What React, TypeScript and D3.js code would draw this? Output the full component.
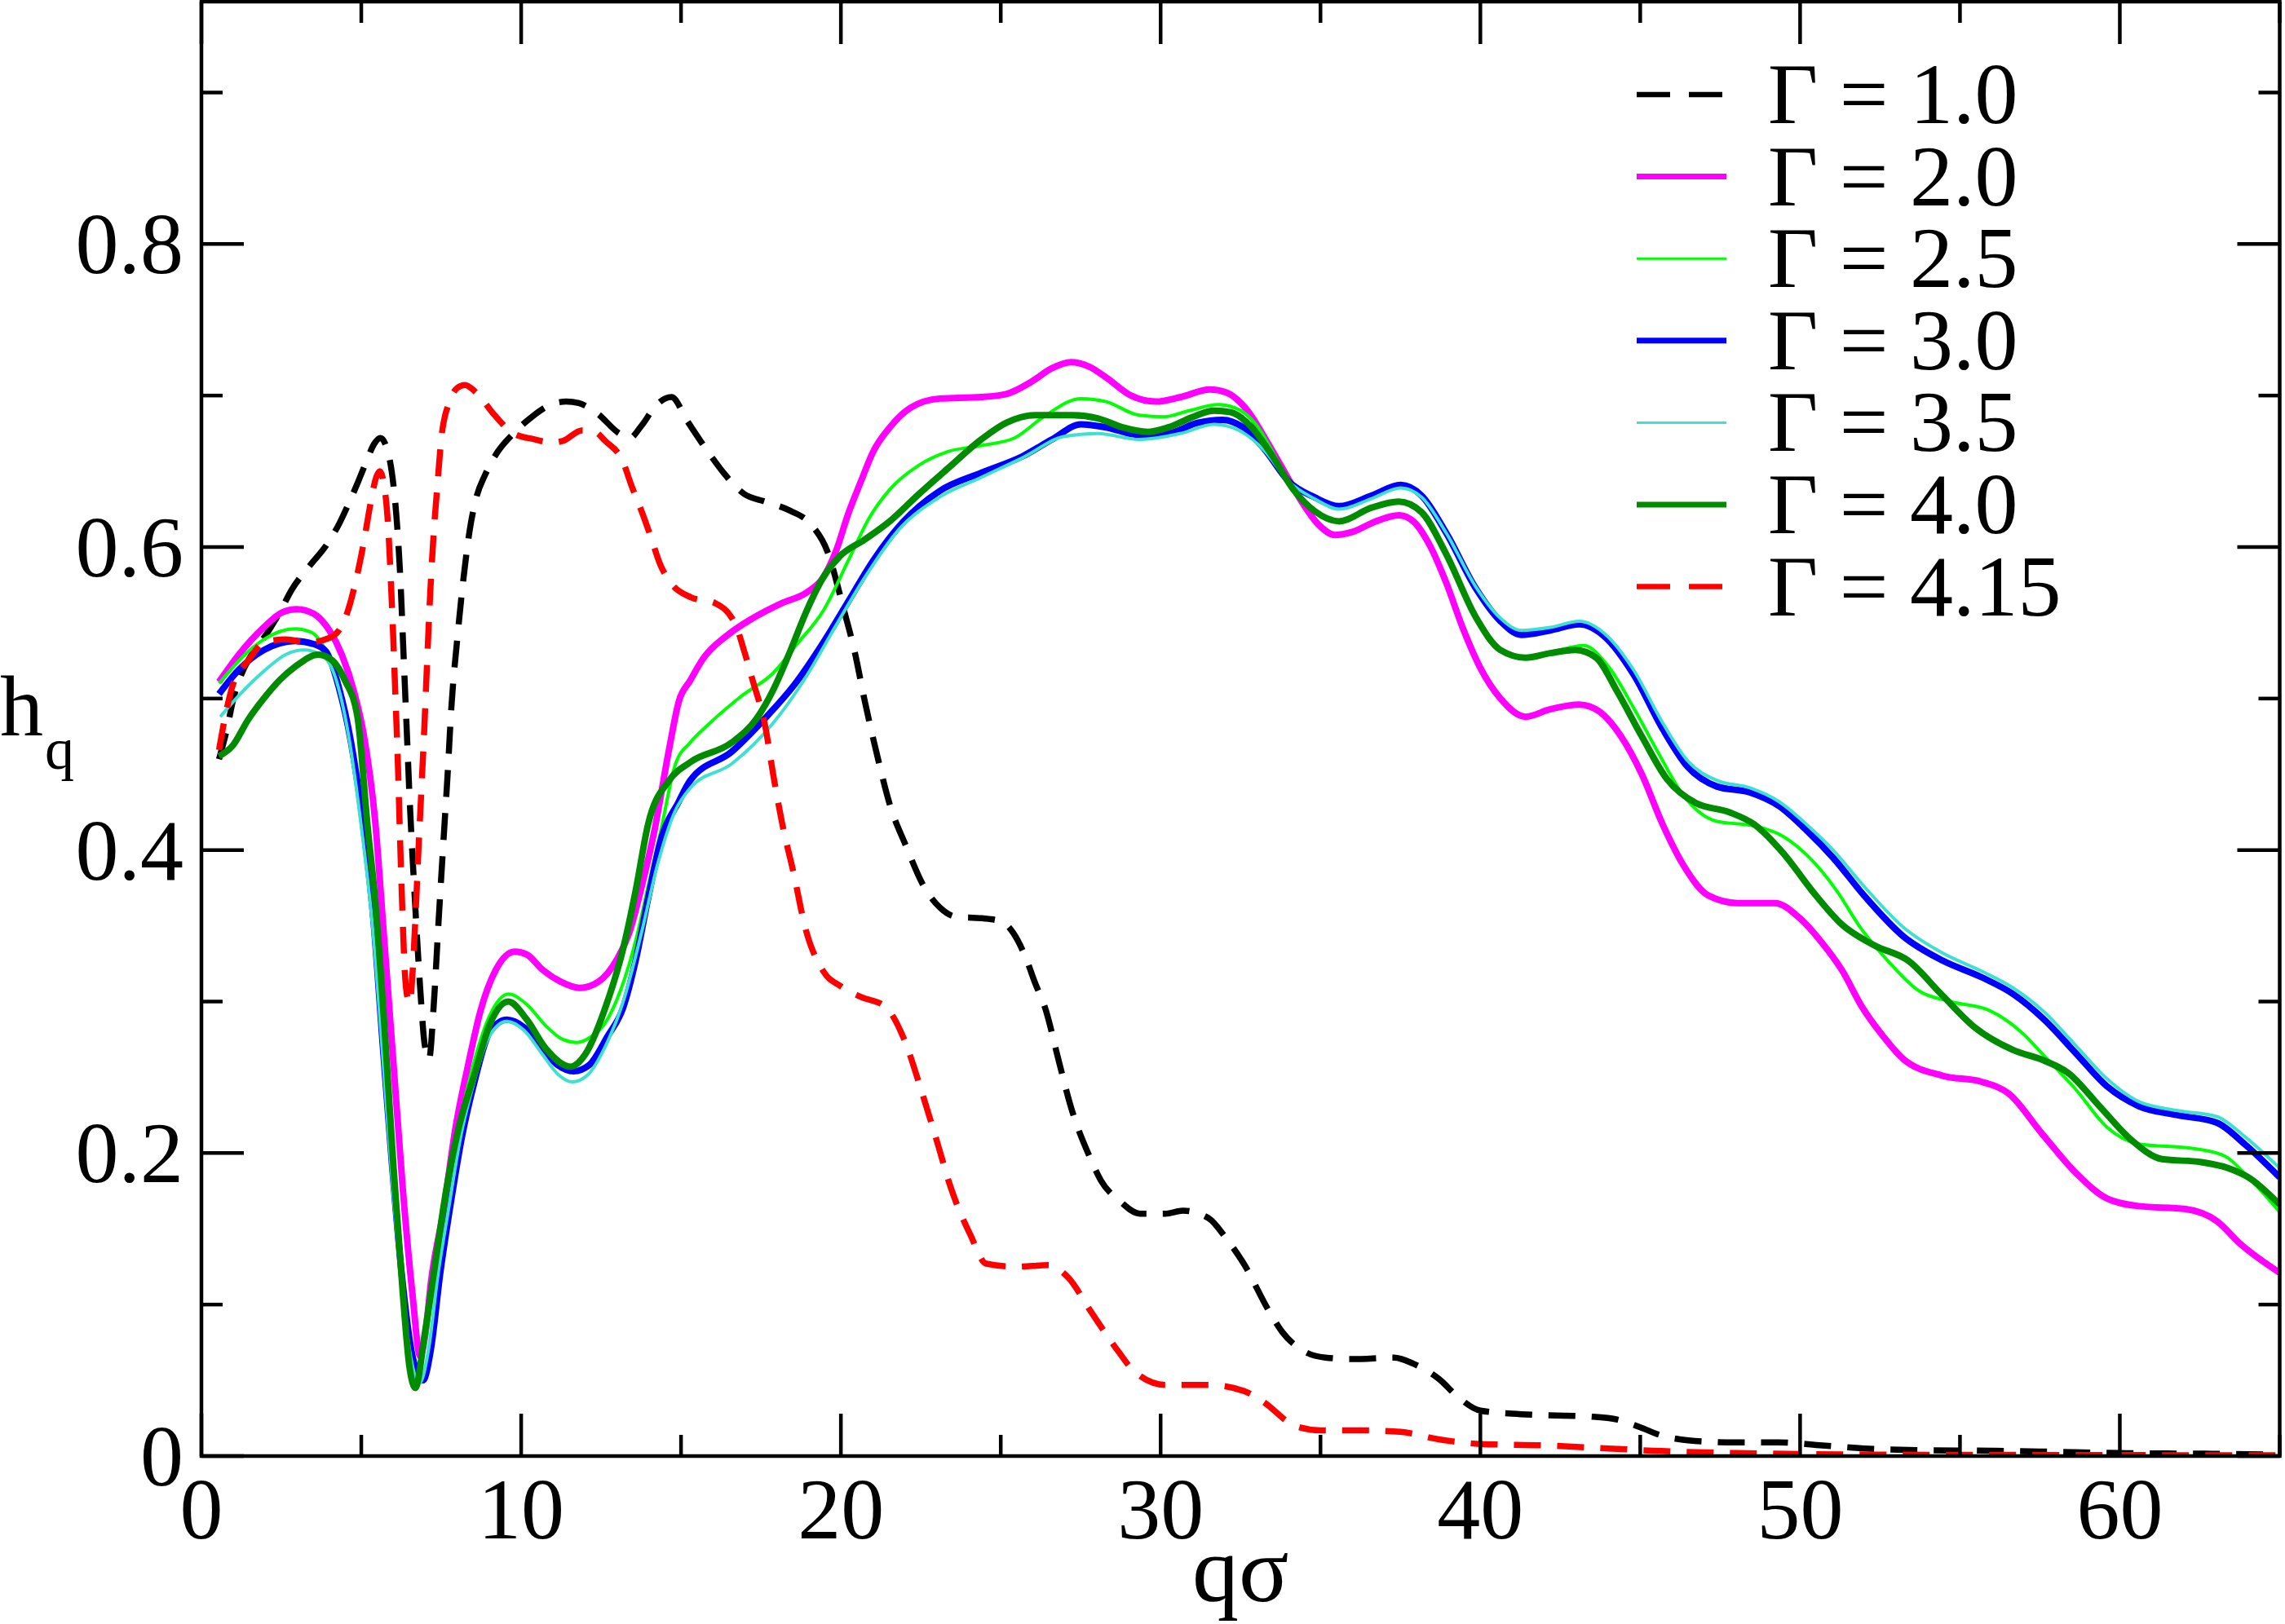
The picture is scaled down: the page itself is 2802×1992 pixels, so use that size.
import * as d3 from 'd3';

type Pt = [number, number];

// h_q against q*sigma
const gamma10: Pt[] = [
  [0.55, 0.46], [0.8, 0.48], [1.0, 0.5], [1.27, 0.517], [1.6, 0.53], [2.05, 0.543], [2.45, 0.557],
  [2.83, 0.572], [3.4, 0.588], [3.9, 0.601], [4.3, 0.615], [4.59, 0.628], [4.9, 0.643], [5.17, 0.657],
  [5.4, 0.668], [5.6, 0.672], [5.8, 0.665], [5.95, 0.65], [6.1, 0.62], [6.22, 0.58], [6.32, 0.53],
  [6.42, 0.48], [6.52, 0.43], [6.63, 0.385], [6.75, 0.34], [6.87, 0.3], [6.98, 0.272], [7.12, 0.262],
  [7.27, 0.299], [7.42, 0.354], [7.57, 0.406], [7.7, 0.45], [7.82, 0.495], [8.0, 0.539], [8.2, 0.58],
  [8.39, 0.611], [8.59, 0.632], [8.88, 0.648], [9.27, 0.663], [9.76, 0.675], [10.34, 0.686],
  [10.93, 0.694], [11.41, 0.696], [11.8, 0.695], [12.39, 0.688], [13.07, 0.675], [13.4, 0.672],
  [13.76, 0.68], [14.24, 0.694], [14.7, 0.699], [15.2, 0.683], [15.94, 0.66], [16.33, 0.649],
  [16.98, 0.635], [17.63, 0.63], [18.41, 0.624], [19.06, 0.615], [19.58, 0.597], [20.1, 0.558],
  [20.43, 0.531], [20.75, 0.498], [21.14, 0.462], [21.53, 0.43], [22.05, 0.402], [22.57, 0.377],
  [23.1, 0.362], [23.6, 0.356], [24.4, 0.355], [25.0, 0.353], [25.4, 0.345], [25.8, 0.328],
  [26.06, 0.313], [26.4, 0.295], [26.8, 0.262], [27.2, 0.23], [27.77, 0.198], [28.13, 0.182],
  [28.74, 0.168], [29.35, 0.16], [30.15, 0.16], [30.7, 0.162], [31.5, 0.157], [32.04, 0.144],
  [32.6, 0.127], [33.38, 0.096], [33.8, 0.082], [34.5, 0.069], [35.15, 0.065], [36.0, 0.064],
  [37.3, 0.065], [37.9, 0.061], [38.7, 0.051], [39.3, 0.039], [40, 0.03], [41, 0.028], [42, 0.027],
  [43.5, 0.026], [44.3, 0.024], [45, 0.019], [45.6, 0.014], [46.5, 0.0104], [48, 0.009], [49.3, 0.009],
  [50.7, 0.007], [52, 0.005], [53.4, 0.004], [56, 0.0035], [57.5, 0.003], [60, 0.002], [62.9, 0.0015],
  [65, 0.001],
];

const gamma20: Pt[] = [
  [0.55, 0.511], [1.17, 0.529], [1.95, 0.547], [2.54, 0.557], [2.98, 0.559], [3.51, 0.556], [4.0, 0.545],
  [4.39, 0.529], [4.78, 0.504], [5.07, 0.477], [5.43, 0.42], [5.72, 0.34], [6.01, 0.258], [6.3, 0.176],
  [6.6, 0.107], [6.84, 0.066], [7.0, 0.08], [7.18, 0.115], [7.57, 0.162], [7.95, 0.217], [8.34, 0.258],
  [8.73, 0.294], [9.21, 0.321], [9.8, 0.333], [10.18, 0.331], [10.67, 0.321], [11.25, 0.313],
  [11.83, 0.309], [12.41, 0.313], [13.0, 0.328], [13.39, 0.346], [13.77, 0.376], [14.16, 0.412],
  [14.63, 0.467], [14.93, 0.498], [15.29, 0.512], [15.68, 0.526], [16.46, 0.542], [17.24, 0.553],
  [18.15, 0.563], [18.93, 0.57], [19.45, 0.58], [19.84, 0.597], [20.23, 0.622], [20.62, 0.643],
  [21.01, 0.663], [21.53, 0.679], [22.18, 0.692], [23.09, 0.698], [24.39, 0.699], [25.17, 0.701],
  [25.95, 0.709], [26.6, 0.718], [27.19, 0.722], [27.77, 0.719], [28.29, 0.712], [29.07, 0.7],
  [29.85, 0.696], [30.63, 0.699], [31.54, 0.704], [32.06, 0.702], [32.72, 0.69], [33.37, 0.668],
  [33.89, 0.649], [34.41, 0.63], [34.93, 0.615], [35.45, 0.608], [36.0, 0.61], [36.73, 0.617],
  [37.45, 0.621], [37.9, 0.617], [38.42, 0.601], [38.94, 0.576], [39.46, 0.546], [39.98, 0.521],
  [40.63, 0.5], [41.41, 0.488], [42.19, 0.493], [43.1, 0.496], [43.75, 0.491], [44.4, 0.475],
  [45.05, 0.45], [45.7, 0.417], [46.35, 0.39], [47.13, 0.37], [48.04, 0.365], [49.21, 0.365],
  [49.99, 0.355], [50.64, 0.34], [51.3, 0.321], [51.95, 0.296], [52.6, 0.277], [53.23, 0.262],
  [54.46, 0.251], [55.68, 0.247], [56.54, 0.239], [57.52, 0.214], [58.62, 0.187], [59.6, 0.17],
  [60.59, 0.165], [62.06, 0.163], [63.04, 0.155], [63.77, 0.14], [65.0, 0.121],
];

const gamma25: Pt[] = [
  [0.55, 0.51], [1.46, 0.531], [1.95, 0.539], [2.93, 0.546], [3.41, 0.544], [3.9, 0.531], [4.29, 0.508],
  [4.68, 0.47], [5.04, 0.415], [5.37, 0.35], [5.66, 0.27], [5.95, 0.19], [6.24, 0.12], [6.5, 0.07],
  [6.74, 0.055], [7.0, 0.075], [7.3, 0.12], [7.65, 0.17], [8.05, 0.217], [8.5, 0.258], [9.0, 0.29],
  [9.6, 0.305], [10.18, 0.298], [10.77, 0.284], [11.3, 0.275], [11.74, 0.273], [12.2, 0.277],
  [12.6, 0.285], [13.1, 0.307], [13.58, 0.34], [13.97, 0.376], [14.36, 0.412], [14.83, 0.457],
  [15.29, 0.471], [15.81, 0.482], [16.85, 0.501], [17.89, 0.517], [18.67, 0.537], [19.45, 0.558],
  [20.23, 0.591], [20.88, 0.619], [21.53, 0.638], [22.44, 0.654], [23.35, 0.663], [24.39, 0.667],
  [25.43, 0.672], [26.34, 0.686], [27.51, 0.698], [28.29, 0.696], [29.33, 0.687], [30.11, 0.686],
  [30.89, 0.69], [31.8, 0.694], [32.32, 0.692], [32.98, 0.681], [33.5, 0.663], [34.02, 0.643],
  [34.8, 0.624], [35.58, 0.617], [36.6, 0.626], [37.45, 0.63], [38.16, 0.623], [38.94, 0.595],
  [39.85, 0.554], [40.63, 0.532], [41.41, 0.527], [42.3, 0.531], [43.23, 0.535], [44.01, 0.521],
  [44.79, 0.494], [45.57, 0.464], [46.35, 0.436], [47.39, 0.419], [48.56, 0.416], [49.47, 0.409],
  [50.29, 0.395], [51.15, 0.373], [51.88, 0.349], [52.74, 0.327], [53.72, 0.307], [54.7, 0.3],
  [55.93, 0.294], [56.91, 0.28], [57.64, 0.264], [58.62, 0.242], [59.6, 0.217], [60.59, 0.206],
  [62.3, 0.203], [63.28, 0.198], [64.02, 0.184], [65, 0.161],
];

const gamma30: Pt[] = [
  [0.55, 0.503], [1.17, 0.519], [1.95, 0.532], [2.93, 0.538], [3.51, 0.536], [3.9, 0.531], [4.29, 0.508],
  [4.68, 0.471], [5.04, 0.42], [5.38, 0.354], [5.67, 0.272], [5.97, 0.19], [6.26, 0.121], [6.6, 0.066],
  [6.93, 0.05], [7.18, 0.071], [7.47, 0.121], [7.76, 0.162], [8.15, 0.211], [8.54, 0.247], [9.02, 0.28],
  [9.55, 0.288], [10.09, 0.283], [10.67, 0.269], [11.15, 0.258], [11.64, 0.254], [12.12, 0.258],
  [12.7, 0.277], [13.19, 0.296], [13.58, 0.327], [13.97, 0.368], [14.36, 0.406], [14.93, 0.432],
  [15.29, 0.446], [16.59, 0.465], [17.63, 0.487], [18.54, 0.509], [19.45, 0.537], [20.23, 0.564],
  [21.01, 0.591], [21.92, 0.616], [23.09, 0.637], [24.39, 0.649], [25.69, 0.66], [26.6, 0.671],
  [27.51, 0.681], [28.29, 0.679], [29.33, 0.674], [30.24, 0.675], [31.15, 0.682], [31.93, 0.684],
  [32.58, 0.679], [33.23, 0.665], [34.02, 0.643], [34.8, 0.633], [35.58, 0.627], [36.6, 0.634],
  [37.51, 0.641], [38.16, 0.634], [38.94, 0.609], [39.85, 0.573], [40.63, 0.551], [41.28, 0.542],
  [42.19, 0.545], [43.1, 0.549], [43.88, 0.541], [44.79, 0.516], [45.7, 0.48], [46.48, 0.455],
  [47.39, 0.442], [48.43, 0.438], [49.34, 0.429], [50.25, 0.412], [51.03, 0.395], [52.0, 0.37],
  [53.23, 0.343], [54.46, 0.327], [55.68, 0.316], [56.66, 0.305], [57.64, 0.288], [58.62, 0.266],
  [59.6, 0.244], [60.59, 0.231], [61.81, 0.225], [63.04, 0.22], [63.9, 0.206], [65.0, 0.184],
];

const gamma35: Pt[] = [
  [0.59, 0.488], [1.17, 0.502], [1.95, 0.518], [2.63, 0.529], [3.22, 0.532], [3.71, 0.529], [4.1, 0.519],
  [4.59, 0.477], [5.02, 0.412], [5.35, 0.35], [5.65, 0.27], [5.95, 0.185], [6.25, 0.115], [6.55, 0.065],
  [6.82, 0.048], [7.1, 0.07], [7.4, 0.12], [7.72, 0.162], [8.1, 0.21], [8.5, 0.245], [9.0, 0.277],
  [9.55, 0.287], [10.09, 0.281], [10.67, 0.265], [11.15, 0.252], [11.6, 0.247], [12.1, 0.252],
  [12.6, 0.269], [13.19, 0.3], [13.77, 0.346], [14.26, 0.39], [14.8, 0.425], [15.29, 0.441],
  [16.59, 0.457], [17.89, 0.484], [18.93, 0.515], [19.84, 0.548], [20.75, 0.58], [21.79, 0.611],
  [23.09, 0.633], [24.39, 0.646], [25.69, 0.659], [26.99, 0.673], [28.03, 0.675], [29.33, 0.671],
  [30.63, 0.675], [31.67, 0.681], [32.45, 0.677], [33.23, 0.664], [34.02, 0.643], [34.8, 0.632],
  [35.58, 0.625], [36.6, 0.632], [37.51, 0.639], [38.16, 0.633], [38.94, 0.609], [39.85, 0.574],
  [40.63, 0.553], [41.28, 0.545], [42.19, 0.547], [43.1, 0.551], [43.88, 0.543], [44.79, 0.519],
  [45.7, 0.484], [46.48, 0.459], [47.39, 0.446], [48.43, 0.441], [49.34, 0.432], [50.25, 0.416],
  [51.03, 0.4], [52.0, 0.376], [53.23, 0.349], [54.46, 0.332], [55.68, 0.32], [56.66, 0.309],
  [57.64, 0.293], [58.62, 0.271], [59.6, 0.249], [60.59, 0.234], [61.81, 0.228], [63.04, 0.224],
  [63.9, 0.211], [65, 0.19],
];

const gamma40: Pt[] = [
  [0.55, 0.462], [0.98, 0.469], [1.46, 0.486], [1.95, 0.5], [2.44, 0.512], [2.93, 0.521], [3.66, 0.529],
  [4.1, 0.525], [4.49, 0.512], [4.88, 0.488], [5.2, 0.415], [5.43, 0.368], [5.72, 0.285], [6.01, 0.19],
  [6.3, 0.107], [6.5, 0.06], [6.69, 0.045], [6.98, 0.08], [7.27, 0.121], [7.66, 0.176], [8.05, 0.217],
  [8.54, 0.252], [9.02, 0.285], [9.6, 0.3], [10.18, 0.288], [10.77, 0.269], [11.54, 0.257], [12.0, 0.265],
  [12.6, 0.294], [13.19, 0.335], [13.58, 0.373], [13.97, 0.417], [14.63, 0.446], [15.29, 0.458],
  [16.59, 0.471], [17.37, 0.487], [17.89, 0.506], [18.41, 0.531], [18.93, 0.558], [19.45, 0.58],
  [19.97, 0.594], [20.75, 0.605], [21.53, 0.617], [22.44, 0.635], [23.35, 0.652], [24.39, 0.671],
  [25.17, 0.682], [26.08, 0.687], [27.25, 0.687], [28.03, 0.685], [28.81, 0.679], [29.59, 0.676],
  [30.24, 0.679], [31.02, 0.686], [31.67, 0.69], [32.19, 0.689], [32.85, 0.679], [33.5, 0.66],
  [34.15, 0.638], [34.8, 0.624], [35.58, 0.617], [36.6, 0.626], [37.45, 0.63], [38.16, 0.623],
  [38.94, 0.595], [39.85, 0.554], [40.63, 0.532], [41.41, 0.527], [42.19, 0.53], [42.97, 0.532],
  [43.62, 0.527], [44.27, 0.505], [45.05, 0.475], [45.83, 0.447], [46.74, 0.431], [47.78, 0.425],
  [48.56, 0.417], [49.47, 0.398], [50.38, 0.373], [51.3, 0.351], [52.33, 0.337], [53.38, 0.327],
  [54.41, 0.305], [55.46, 0.283], [56.66, 0.268], [57.64, 0.261], [58.38, 0.253], [59.36, 0.231],
  [60.34, 0.209], [61.32, 0.196], [62.55, 0.194], [63.4, 0.19], [64.02, 0.184], [65, 0.166],
];

const gamma415: Pt[] = [
  [0.55, 0.466], [0.78, 0.492], [1.0, 0.51], [1.17, 0.517], [1.46, 0.525], [1.95, 0.537], [2.63, 0.539],
  [3.32, 0.537], [4.0, 0.54], [4.3, 0.545], [4.55, 0.556], [4.8, 0.575], [5.05, 0.6], [5.3, 0.63],
  [5.45, 0.645], [5.58, 0.65], [5.72, 0.64], [5.85, 0.61], [5.93, 0.575], [6.0, 0.54], [6.07, 0.5],
  [6.14, 0.46], [6.21, 0.409], [6.29, 0.357], [6.35, 0.324], [6.45, 0.302], [6.52, 0.299], [6.6, 0.318],
  [6.69, 0.354], [6.79, 0.401], [6.88, 0.44], [6.97, 0.48], [7.06, 0.525], [7.15, 0.567], [7.27, 0.611],
  [7.37, 0.638], [7.51, 0.673], [7.76, 0.696], [8.0, 0.705], [8.24, 0.707], [8.59, 0.702], [9.17, 0.687],
  [9.76, 0.675], [10.44, 0.671], [10.93, 0.669], [11.3, 0.67], [11.9, 0.677], [12.3, 0.676], [12.63, 0.67],
  [13.17, 0.657], [13.46, 0.64], [13.76, 0.624], [14.05, 0.607], [14.34, 0.589], [14.73, 0.575],
  [15.29, 0.567], [16.07, 0.563], [16.72, 0.548], [16.98, 0.531], [17.24, 0.512], [17.63, 0.482],
  [17.89, 0.449], [18.15, 0.419], [18.54, 0.383], [18.87, 0.35], [19.45, 0.32], [20.0, 0.31],
  [20.63, 0.303], [21.37, 0.297], [21.98, 0.275], [22.52, 0.241], [23.0, 0.208], [23.44, 0.177],
  [24.05, 0.146], [24.54, 0.127], [25.51, 0.125], [26.49, 0.126], [27.1, 0.118], [27.83, 0.095],
  [28.68, 0.069], [29.17, 0.056], [30.15, 0.047], [31.49, 0.047], [32.6, 0.043], [33.2, 0.036],
  [34.2, 0.02], [35.0, 0.017], [36.2, 0.017], [37.5, 0.016], [38.7, 0.011], [40, 0.008], [42, 0.007],
  [44, 0.005], [46, 0.003], [48, 0.002], [52, 0.001], [56, 0.0008], [65, 0.0005],
];

const seriesData = [gamma10, gamma20, gamma25, gamma30, gamma35, gamma40, gamma415];
const seriesLabels = ['Γ = 1.0', 'Γ = 2.0', 'Γ = 2.5', 'Γ = 3.0', 'Γ = 3.5', 'Γ = 4.0', 'Γ = 4.15'];
const seriesColors = ['#000000', '#ff00ff', '#00ff00', '#0000ff', '#40e0d0', '#008b00', '#ff0000'];
const seriesWidths = [7.5, 8, 4, 8, 4, 8, 7.5];
const seriesDashed = [true, false, false, false, false, false, true];

const xMajorTicks = [0, 10, 20, 30, 40, 50, 60];
const xMinorTicks = [5, 15, 25, 35, 45, 55, 65];
const yMajorTicks = [0, 0.2, 0.4, 0.6, 0.8];
const yMinorTicks = [0.1, 0.3, 0.5, 0.7, 0.9];
const yTickLabels = ['0', '0.2', '0.4', '0.6', '0.8'];

const W = 2802;
const H = 1992;
const FONT = '"Liberation Serif", "Times New Roman", Times, serif';

export default function App() {
  const left = 247;
  const right = 2795.5;
  const top = 2;
  const bottom = 1786;

  const x = d3.scaleLinear().domain([0, 65]).range([left, right]);
  const y = d3.scaleLinear().domain([0, 0.96]).range([bottom, top]);

  const line = d3
    .line<Pt>()
    .x((d) => x(d[0]))
    .y((d) => y(d[1]))
    .curve(d3.curveMonotoneX);

  const major = 52;
  const minor = 26;
  const tickW = 4.5;

  return (
    <svg
      width={W}
      height={H}
      viewBox={`0 0 ${W} ${H}`}
      style={{ position: 'absolute', left: 0, top: 0, background: '#fff' }}
      fontFamily={FONT}
    >
      <defs>
        <clipPath id="plot-clip">
          <rect x={left} y={top} width={right - left} height={bottom - top} />
        </clipPath>
      </defs>
      <rect x={0} y={0} width={W} height={H} fill="#fff" />

      {/* curves */}
      <g clipPath="url(#plot-clip)">
        {seriesData.map((d, i) => (
          <path
            key={seriesLabels[i]}
            d={line(d) ?? ''}
            fill="none"
            stroke={seriesColors[i]}
            strokeWidth={seriesWidths[i]}
            strokeDasharray={seriesDashed[i] ? '33,20' : undefined}
            strokeLinejoin="round"
          />
        ))}
      </g>

      {/* ticks, inward on all four sides */}
      <g stroke="#000" strokeWidth={tickW}>
        {xMajorTicks.map((t) => (
          <g key={`xM${t}`}>
            <line x1={x(t)} x2={x(t)} y1={bottom} y2={bottom - major} />
            <line x1={x(t)} x2={x(t)} y1={top} y2={top + major} />
          </g>
        ))}
        {xMinorTicks.map((t) => (
          <g key={`xm${t}`}>
            <line x1={x(t)} x2={x(t)} y1={bottom} y2={bottom - minor} />
            <line x1={x(t)} x2={x(t)} y1={top} y2={top + minor} />
          </g>
        ))}
        {yMajorTicks.map((t) => (
          <g key={`yM${t}`}>
            <line x1={left} x2={left + major} y1={y(t)} y2={y(t)} />
            <line x1={right} x2={right - major} y1={y(t)} y2={y(t)} />
          </g>
        ))}
        {yMinorTicks.map((t) => (
          <g key={`ym${t}`}>
            <line x1={left} x2={left + minor} y1={y(t)} y2={y(t)} />
            <line x1={right} x2={right - minor} y1={y(t)} y2={y(t)} />
          </g>
        ))}
      </g>

      {/* frame */}
      <rect
        x={left}
        y={top}
        width={right - left}
        height={bottom - top}
        fill="none"
        stroke="#000"
        strokeWidth={4.5}
      />

      {/* tick labels */}
      <g fontSize={106} fill="#000">
        {xMajorTicks.map((t) => (
          <text key={`xl${t}`} x={x(t)} y={1887} textAnchor="middle">
            {t}
          </text>
        ))}
        {yMajorTicks.map((t, i) => (
          <text key={`yl${t}`} x={225} y={y(t) + 36} textAnchor="end">
            {yTickLabels[i]}
          </text>
        ))}
      </g>

      {/* axis titles */}
      <text x={(left + right) / 2} y={1964} fontSize={114} textAnchor="middle">
        qσ
      </text>
      <text x={0} y={902} fontSize={106}>
        h
      </text>
      <text x={55} y={943} fontSize={72}>
        q
      </text>

      {/* legend */}
      <g>
        {seriesLabels.map((lab, i) => {
          const cy = 116 + i * 100.6;
          return (
            <g key={`lg${lab}`}>
              <line
                x1={2007}
                x2={seriesDashed[i] ? 2112 : 2117}
                y1={cy}
                y2={cy}
                stroke={seriesColors[i]}
                strokeWidth={seriesWidths[i] - 1}
                strokeDasharray={seriesDashed[i] ? '41,23' : undefined}
              />
              <text x={2168} y={cy + 35} fontSize={106} fill="#000">
                {lab}
              </text>
            </g>
          );
        })}
      </g>
    </svg>
  );
}
